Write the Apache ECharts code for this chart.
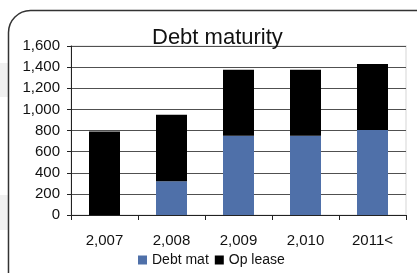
<!DOCTYPE html>
<html>
<head>
<meta charset="utf-8">
<style>
  html, body { margin: 0; padding: 0; background: #fff; }
  #chart { width: 417px; height: 273px; }
</style>
<script src="https://cdn.jsdelivr.net/npm/echarts@6/dist/echarts.min.js"></script>
</head>
<body>
<div id="chart"></div>
<script>
var categories = ['2,007', '2,008', '2,009', '2,010', '2011<'];
var debtMat = [0, 320, 750, 750, 805];
var opLease = [790, 630, 625, 625, 625];

var myChart = echarts.init(document.getElementById('chart'));

var option = {
    animation: false,
    textStyle: { fontFamily: 'Liberation Sans, Arial, sans-serif' },
    title: {
        text: 'Debt maturity',
        left: 147,
        top: 22,
        textStyle: { fontSize: 22, fontWeight: 'normal', color: '#111' }
    },
    legend: {
        data: ['Debt mat', 'Op lease'],
        left: 133,
        top: 248,
        itemWidth: 9,
        itemHeight: 9,
        itemGap: 6,
        icon: 'rect',
        textStyle: { fontSize: 14, color: '#111' }
    },
    graphic: [
        // light background bits outside the frame
        { type: 'rect', shape: { x: 0, y: 63, width: 8, height: 34 }, style: { fill: '#f0f0f0' }, z: 0 },
        { type: 'rect', shape: { x: 0, y: 195, width: 8, height: 35 }, style: { fill: '#f0f0f0' }, z: 0 },
        // rounded frame running off the picture
        { type: 'rect', shape: { x: 8.5, y: 10.5, width: 430, height: 290, r: 22 },
          style: { fill: 'none', stroke: '#333', lineWidth: 1.5 }, z: 1 },
        // plot area border
        { type: 'rect', shape: { x: 71, y: 46, width: 335, height: 169 },
          style: { fill: 'none', stroke: '#e4e4e4', lineWidth: 1.5 }, z: 0 }
    ],
    grid: { left: 71, right: 11, top: 46, bottom: 58 },
    xAxis: {
        type: 'category',
        data: categories,
        axisLine: { lineStyle: { color: '#222' } },
        axisTick: { show: true, length: 5, lineStyle: { color: '#222' } },
        axisLabel: { fontSize: 15, color: '#111', margin: 18 }
    },
    yAxis: {
        type: 'value',
        min: 0,
        max: 1600,
        interval: 200,
        axisLine: { show: true, lineStyle: { color: '#222' } },
        axisTick: { show: true, length: 4, lineStyle: { color: '#222' } },
        axisLabel: {
            fontSize: 15, color: '#111', margin: 11,
            formatter: function (v) { return v.toLocaleString('en-US'); }
        },
        splitLine: { lineStyle: { color: '#505050' } }
    },
    series: [
        {
            name: 'Debt mat',
            type: 'bar',
            stack: 'total',
            barWidth: 31,
            itemStyle: { color: '#4f70a9' },
            data: debtMat
        },
        {
            name: 'Op lease',
            type: 'bar',
            stack: 'total',
            barWidth: 31,
            itemStyle: { color: '#000' },
            data: opLease
        }
    ]
};

myChart.setOption(option);
</script>
</body>
</html>
